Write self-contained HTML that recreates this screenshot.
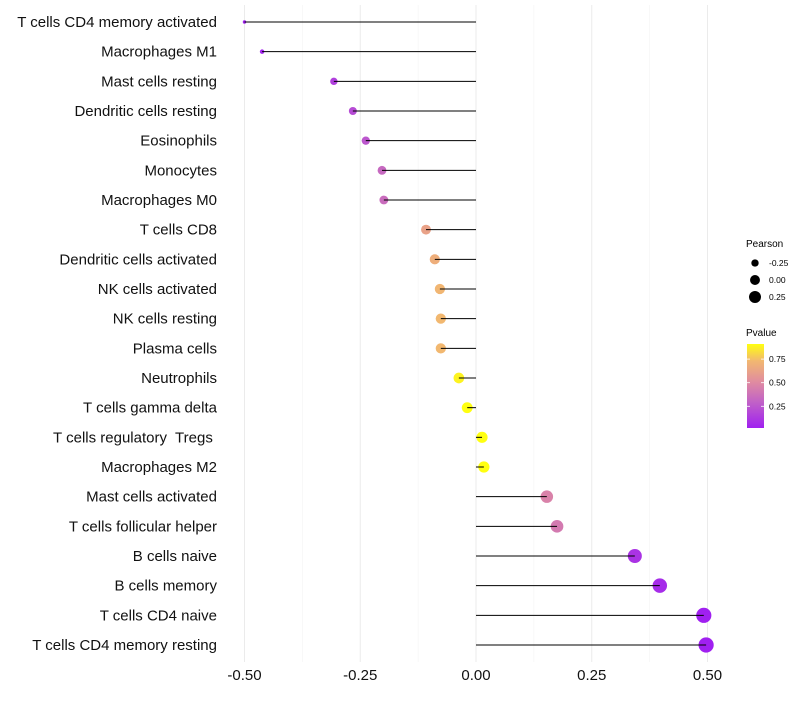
<!DOCTYPE html>
<html><head><meta charset="utf-8"><style>
body{margin:0;background:#fff;font-family:"Liberation Sans",sans-serif}
svg text{font-family:"Liberation Sans",sans-serif;white-space:pre}
</style></head><body>
<svg id="chart" width="800" height="700" xmlns="http://www.w3.org/2000/svg">
<g id="grid"></g>
<g id="marks"></g>
<g id="ylabels"></g>
<g id="xlabels"></g>
<g id="legend">
<defs><linearGradient id="pg" x1="0" y1="1" x2="0" y2="0">
<stop offset="0" stop-color="#a020f0"/><stop offset="0.3" stop-color="#c060c8"/><stop offset="0.55" stop-color="#e08ca0"/><stop offset="0.8" stop-color="#f2b870"/><stop offset="1" stop-color="#ffff10"/></linearGradient></defs>
<text x="746" y="247" font-size="10">Pearson</text>
<g id="sizeleg"></g>
<text x="746" y="336" font-size="10">Pvalue</text>
<rect x="747" y="344" width="17" height="84" fill="url(#pg)"/>
<g id="cbticks"></g>
</g>
</svg>
<script>
const categories=["T cells CD4 memory activated","Macrophages M1","Mast cells resting","Dendritic cells resting","Eosinophils","Monocytes","Macrophages M0","T cells CD8","Dendritic cells activated","NK cells activated","NK cells resting","Plasma cells","Neutrophils","T cells gamma delta","T cells regulatory  Tregs ","Macrophages M2","Mast cells activated","T cells follicular helper","B cells naive","B cells memory","T cells CD4 naive","T cells CD4 memory resting"];
const pearson=[-0.50,-0.462,-0.307,-0.266,-0.238,-0.203,-0.199,-0.108,-0.089,-0.078,-0.076,-0.076,-0.037,-0.019,0.013,0.017,0.153,0.175,0.343,0.397,0.492,0.497];
const pvalue=[0.02,0.04,0.15,0.2,0.25,0.33,0.35,0.62,0.68,0.72,0.73,0.73,0.88,0.92,0.95,0.94,0.46,0.42,0.1,0.07,0.02,0.02];
const xTicks=[-0.5,-0.25,0,0.25,0.5];
const xTickLabels=["-0.50","-0.25","0.00","0.25","0.50"];
const sizeLegend=[-0.25,0,0.25];
const sizeLegendLabels=["-0.25","0.00","0.25"];
const cbTicks=[0.25,0.5,0.75];
const cbLabels=["0.25","0.50","0.75"];
const NS="http://www.w3.org/2000/svg";
const X=v=>476+v*463;
const Y=i=>22+i*(623/21);
const R=v=>Math.sqrt(Math.max(2,3+55*(v+0.5)));
const stops=[[0,[160,32,240]],[0.3,[192,96,200]],[0.55,[224,140,160]],[0.8,[242,184,112]],[1,[255,255,16]]];
function col(p){const t=Math.min(1,Math.max(0,(p-0.02)/0.89));for(let k=1;k<stops.length;k++){if(t<=stops[k][0]){const a=stops[k-1],b=stops[k];const f=(t-a[0])/(b[0]-a[0]);return "rgb("+a[1].map((c,j)=>Math.round(c+(b[1][j]-c)*f)).join(",")+")";}}return "rgb(255,255,16)";}
function mk(tag,at,parent){const e=document.createElementNS(NS,tag);for(const k in at)e.setAttribute(k,at[k]);document.getElementById(parent).appendChild(e);return e;}
const grid=[-0.5,-0.375,-0.25,-0.125,0,0.125,0.25,0.375,0.5];
grid.forEach(g=>{const major=(g*4)%1===0;const l=mk("line",{x1:X(g),x2:X(g),y1:5,y2:662,stroke:major?"#ebebeb":"#f4f4f4","stroke-width":major?1:0.6},"grid");

});
categories.forEach((c,i)=>{
const d=mk("circle",{cx:X(pearson[i]),cy:Y(i),r:R(pearson[i]),fill:col(pvalue[i])},"marks");


const s=mk("line",{x1:X(0),x2:X(pearson[i]),y1:Y(i),y2:Y(i),stroke:"#000","stroke-width":1},"marks");


const t=mk("text",{x:217,y:Y(i)+5,"text-anchor":"end","font-size":15,fill:"#111"},"ylabels");
t.textContent=c;

});
xTicks.forEach((v,i)=>{const t=mk("text",{x:X(v),y:680,"text-anchor":"middle","font-size":15,fill:"#111"},"xlabels");
t.textContent=xTickLabels[i];

});
sizeLegend.forEach((v,i)=>{const y=263+i*17;
const c=mk("circle",{cx:755,cy:y,r:R(v)*0.9,fill:"#000"},"sizeleg");


const t=mk("text",{x:769,y:y+3,"font-size":8.5},"sizeleg");
t.textContent=sizeLegendLabels[i];

});
cbTicks.forEach((v,i)=>{const y=428-(v-0.02)/0.89*84;
const l=mk("line",{x1:747,x2:750,y1:y,y2:y,stroke:"#fff","stroke-width":0.8},"cbticks");


const l2=mk("line",{x1:761,x2:764,y1:y,y2:y,stroke:"#fff","stroke-width":0.8},"cbticks");


const t=mk("text",{x:769,y:y+3,"font-size":8.5},"cbticks");
t.textContent=cbLabels[i];

});
</script>
</body></html>
